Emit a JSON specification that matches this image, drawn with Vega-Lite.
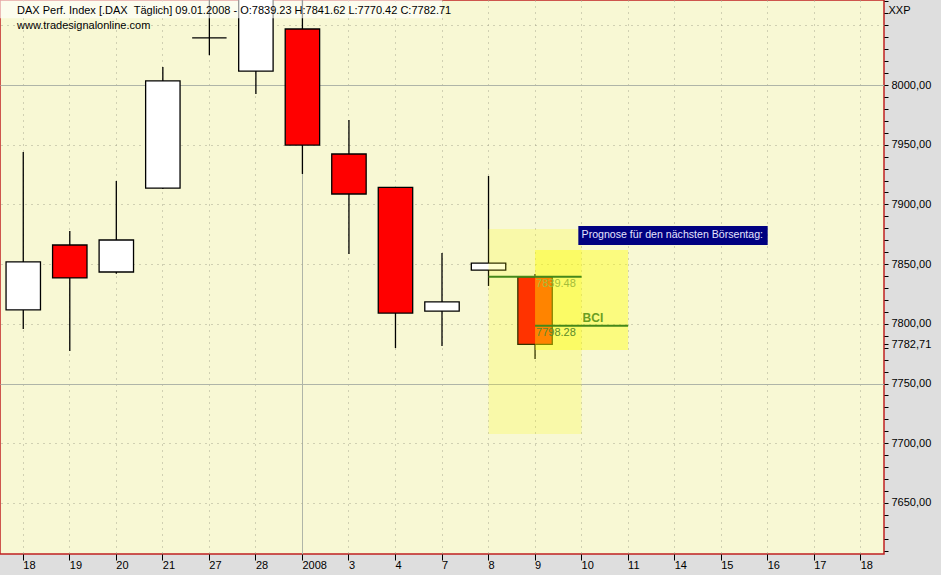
{
  "$schema": "https://vega.github.io/schema/vega-lite/v6.json",
  "width": 884,
  "height": 554,
  "autosize": {"type": "none"},
  "padding": {"left": 0, "top": 0, "right": 57, "bottom": 21},
  "background": "#DEDEDE",
  "config": {
    "view": {"fill": "#F8F8D4", "stroke": "#C02020", "strokeWidth": 1.5},
    "font": "Liberation Sans",
    "axis": {"labelFont": "Liberation Sans", "labelFontSize": 11, "labelColor": "black", "labelOverlap": false, "labelBound": false}
  },
  "title": {
    "text": "DAX Perf. Index [.DAX \u00a0Täglich] 09.01.2008 - O:7839.23 H:7841.62 L:7770.42 C:7782.71",
    "subtitle": "www.tradesignalonline.com",
    "anchor": "start",
    "frame": "group",
    "orient": "top",
    "offset": 0,
    "dx": 17,
    "dy": 36,
    "font": "Liberation Sans",
    "fontSize": 11,
    "fontWeight": "normal",
    "color": "black",
    "subtitleFont": "Liberation Sans",
    "subtitleFontSize": 11,
    "subtitleColor": "black",
    "subtitlePadding": 4
  },
  "datasets": {
    "candles": [
      {"date": "2007-12-18", "open": 7811.6, "high": 7943.9, "low": 7795.6, "close": 7851.8},
      {"date": "2007-12-19", "open": 7866.0, "high": 7877.7, "low": 7777.2, "close": 7838.4},
      {"date": "2007-12-20", "open": 7843.4, "high": 7919.6, "low": 7842.0, "close": 7870.2},
      {"date": "2007-12-21", "open": 7913.7, "high": 8015.0, "low": 7913.0, "close": 8003.4},
      {"date": "2007-12-27", "open": 8039.4, "high": 8085.0, "low": 8025.0, "close": 8039.4},
      {"date": "2007-12-28", "open": 8011.7, "high": 8095.0, "low": 7992.5, "close": 8085.0},
      {"date": "2008-01-02", "open": 8046.9, "high": 8080.0, "low": 7925.5, "close": 7949.7},
      {"date": "2008-01-03", "open": 7942.2, "high": 7970.7, "low": 7858.5, "close": 7908.7},
      {"date": "2008-01-04", "open": 7914.3, "high": 7914.6, "low": 7779.7, "close": 7809.0},
      {"date": "2008-01-07", "open": 7810.7, "high": 7859.3, "low": 7781.4, "close": 7818.3},
      {"date": "2008-01-08", "open": 7845.0, "high": 7923.8, "low": 7831.7, "close": 7850.9},
      {"date": "2008-01-09", "open": 7839.23, "high": 7841.62, "low": 7770.42, "close": 7782.71}
    ],
    "zones": [
      {"zone": "A", "x1": "2008-01-08", "x2": "2008-01-10", "lo": 7707.7, "hi": 7879.4},
      {"zone": "B", "x1": "2008-01-09", "x2": "2008-01-11", "lo": 7778.0, "hi": 7861.8}
    ],
    "levels": [
      {"name": "upper", "x1": "2008-01-08", "x2": "2008-01-10", "v": 7839.48, "labx": "2008-01-09", "label": "7839.48"},
      {"name": "BCI", "x1": "2008-01-09", "x2": "2008-01-11", "v": 7798.28, "labx": "2008-01-09", "label": "7798.28"}
    ],
    "bci": [{"x": "2008-01-10", "v": 7798.28, "label": "BCI"}],
    "note": [{"x1": "2008-01-10", "x2": "2008-01-16", "lo": 7866.0, "hi": 7882.0, "ty": 7874.0, "label": "Prognose für den nächsten Börsentag:"}],
    "header": [{"x1": "2007-12-18", "x2": "2008-01-07", "lo": 8056.0, "hi": 8071.2}]
  },
  "layer": [
    {
      "data": {"name": "candles"},
      "mark": {"type": "rule", "color": "black", "strokeWidth": 1.3, "clip": true},
      "encoding": {
        "x": {"field": "date", "type": "ordinal", "bandPosition": 0.5, "title": null,
          "scale": {"type": "band", "domain": ["2007-12-18","2007-12-19","2007-12-20","2007-12-21","2007-12-27","2007-12-28","2008-01-02","2008-01-03","2008-01-04","2008-01-07","2008-01-08","2008-01-09","2008-01-10","2008-01-11","2008-01-14","2008-01-15","2008-01-16","2008-01-17","2008-01-18"], "paddingInner": 0, "paddingOuter": 0},
          "axis": {"title": null, "domain": false, "ticks": true, "tickSize": 6, "tickColor": "black", "bandPosition": 0.5, "labelAlign": "left", "labelBaseline": "top", "labelDx": 2, "labelPadding": -1, "labelAngle": 0, "labelOverlap": false,
            "labelExpr": "datum.value === '2008-01-02' ? '2008' : '' + toNumber(slice(datum.value, 8))",
            "grid": true,
            "gridColor": {"condition": {"test": "datum.value === '2008-01-02'", "value": "#AFB5A8"}, "value": "#A8A890"},
            "gridDash": {"condition": {"test": "datum.value === '2008-01-02'", "value": []}, "value": [1, 5]}}},
        "y": {"field": "low", "type": "quantitative",
          "scale": {"domain": [7607.2, 8071.2], "nice": false, "zero": false},
          "axis": {"orient": "right", "title": "XXP", "titleAngle": 0, "titleAlign": "left", "titleBaseline": "middle", "titleX": 4, "titleY": 10, "titleFontWeight": "normal", "titleFontSize": 11, "titleFont": "Liberation Sans", "titleColor": "black",
            "domain": false, "ticks": true, "tickSize": 4, "tickColor": "black", "labelPadding": 3, "labelOverlap": false, "labelFlush": false, "labelBound": false, "labelAlign": "left", "labelBaseline": "middle",
            "tickCount": 200,
            "values": [7610,7620,7630,7640,7650,7660,7670,7680,7690,7700,7710,7720,7730,7740,7750,7760,7770,7780,7782.71,7790,7800,7810,7820,7830,7840,7850,7860,7870,7880,7890,7900,7910,7920,7930,7940,7950,7960,7970,7980,7990,8000,8010,8020,8030,8040,8050,8060,8070],
            "labelExpr": "(datum.value % 50 === 0 && datum.value <= 8000) ? replace(format(datum.value, '.2f'), '.', ',') : (abs(datum.value - 7782.71) < 0.01 ? '7782,71' : '')",
            "grid": true,
            "gridColor": {"condition": {"test": "datum.value === 8000 || datum.value === 7750", "value": "#AFB5A8"}, "value": "#A8A890"},
            "gridDash": {"condition": {"test": "datum.value === 8000 || datum.value === 7750", "value": []}, "value": [1, 5]},
            "gridOpacity": {"condition": {"test": "datum.value % 50 === 0", "value": 1}, "value": 0}}},
        "y2": {"field": "high"}
      }
    },
    {
      "data": {"name": "candles"},
      "mark": {"type": "bar", "width": {"band": 0.74}, "stroke": "black", "strokeWidth": 1.3, "clip": true},
      "encoding": {
        "x": {"field": "date", "type": "ordinal", "title": null,
          "scale": {"type": "band", "domain": ["2007-12-18","2007-12-19","2007-12-20","2007-12-21","2007-12-27","2007-12-28","2008-01-02","2008-01-03","2008-01-04","2008-01-07","2008-01-08","2008-01-09","2008-01-10","2008-01-11","2008-01-14","2008-01-15","2008-01-16","2008-01-17","2008-01-18"], "paddingInner": 0, "paddingOuter": 0}},
        "y": {"field": "open", "type": "quantitative", "scale": {"domain": [7607.2, 8071.2], "nice": false, "zero": false}},
        "y2": {"field": "close"},
        "fill": {"condition": {"test": "datum.close >= datum.open", "value": "white"}, "value": "#FF0000"}
      }
    },
    {
      "data": {"name": "zones"},
      "mark": {"type": "rect", "color": "#FFFF00", "clip": true},
      "encoding": {
        "x": {"field": "x1", "type": "ordinal", "bandPosition": 0.5, "title": null,
          "scale": {"type": "band", "domain": ["2007-12-18","2007-12-19","2007-12-20","2007-12-21","2007-12-27","2007-12-28","2008-01-02","2008-01-03","2008-01-04","2008-01-07","2008-01-08","2008-01-09","2008-01-10","2008-01-11","2008-01-14","2008-01-15","2008-01-16","2008-01-17","2008-01-18"], "paddingInner": 0, "paddingOuter": 0}},
        "x2": {"field": "x2", "bandPosition": 0.5},
        "y": {"field": "lo", "type": "quantitative", "scale": {"domain": [7607.2, 8071.2], "nice": false, "zero": false}},
        "y2": {"field": "hi"},
        "opacity": {"condition": {"test": "datum.zone === 'A'", "value": 0.2}, "value": 0.4}
      }
    },
    {
      "data": {"name": "levels"},
      "mark": {"type": "rule", "color": "#44881A", "strokeWidth": 2},
      "encoding": {
        "x": {"field": "x1", "type": "ordinal", "bandPosition": 0.5, "title": null,
          "scale": {"type": "band", "domain": ["2007-12-18","2007-12-19","2007-12-20","2007-12-21","2007-12-27","2007-12-28","2008-01-02","2008-01-03","2008-01-04","2008-01-07","2008-01-08","2008-01-09","2008-01-10","2008-01-11","2008-01-14","2008-01-15","2008-01-16","2008-01-17","2008-01-18"], "paddingInner": 0, "paddingOuter": 0}},
        "x2": {"field": "x2", "bandPosition": 0.5},
        "y": {"field": "v", "type": "quantitative", "scale": {"domain": [7607.2, 8071.2], "nice": false, "zero": false}}
      }
    },
    {
      "data": {"name": "levels"},
      "mark": {"type": "text", "align": "left", "baseline": "middle", "dx": 1, "dy": 7, "fontSize": 11, "font": "Liberation Sans"},
      "encoding": {
        "x": {"field": "labx", "type": "ordinal", "bandPosition": 0.5, "title": null,
          "scale": {"type": "band", "domain": ["2007-12-18","2007-12-19","2007-12-20","2007-12-21","2007-12-27","2007-12-28","2008-01-02","2008-01-03","2008-01-04","2008-01-07","2008-01-08","2008-01-09","2008-01-10","2008-01-11","2008-01-14","2008-01-15","2008-01-16","2008-01-17","2008-01-18"], "paddingInner": 0, "paddingOuter": 0}},
        "y": {"field": "v", "type": "quantitative", "scale": {"domain": [7607.2, 8071.2], "nice": false, "zero": false}},
        "text": {"field": "label"},
        "color": {"condition": {"test": "datum.name === 'upper'", "value": "#A3BC3A"}, "value": "#5A8A2A"}
      }
    },
    {
      "data": {"name": "bci"},
      "mark": {"type": "text", "align": "left", "baseline": "middle", "dx": 1, "dy": -8, "fontSize": 12, "fontWeight": "bold", "font": "Liberation Sans", "color": "#6A9E22"},
      "encoding": {
        "x": {"field": "x", "type": "ordinal", "bandPosition": 0.5, "title": null,
          "scale": {"type": "band", "domain": ["2007-12-18","2007-12-19","2007-12-20","2007-12-21","2007-12-27","2007-12-28","2008-01-02","2008-01-03","2008-01-04","2008-01-07","2008-01-08","2008-01-09","2008-01-10","2008-01-11","2008-01-14","2008-01-15","2008-01-16","2008-01-17","2008-01-18"], "paddingInner": 0, "paddingOuter": 0}},
        "y": {"field": "v", "type": "quantitative", "scale": {"domain": [7607.2, 8071.2], "nice": false, "zero": false}},
        "text": {"field": "label"}
      }
    },
    {
      "data": {"name": "note"},
      "mark": {"type": "rect", "color": "#000080"},
      "encoding": {
        "x": {"field": "x1", "type": "ordinal", "bandPosition": 0.43, "title": null,
          "scale": {"type": "band", "domain": ["2007-12-18","2007-12-19","2007-12-20","2007-12-21","2007-12-27","2007-12-28","2008-01-02","2008-01-03","2008-01-04","2008-01-07","2008-01-08","2008-01-09","2008-01-10","2008-01-11","2008-01-14","2008-01-15","2008-01-16","2008-01-17","2008-01-18"], "paddingInner": 0, "paddingOuter": 0}},
        "x2": {"field": "x2", "bandPosition": 0.5},
        "y": {"field": "lo", "type": "quantitative", "scale": {"domain": [7607.2, 8071.2], "nice": false, "zero": false}},
        "y2": {"field": "hi"}
      }
    },
    {
      "data": {"name": "note"},
      "mark": {"type": "text", "align": "left", "baseline": "middle", "dx": 0, "fontSize": 10.6, "font": "Liberation Sans", "color": "#E4E4FF"},
      "encoding": {
        "x": {"field": "x1", "type": "ordinal", "bandPosition": 0.5, "title": null,
          "scale": {"type": "band", "domain": ["2007-12-18","2007-12-19","2007-12-20","2007-12-21","2007-12-27","2007-12-28","2008-01-02","2008-01-03","2008-01-04","2008-01-07","2008-01-08","2008-01-09","2008-01-10","2008-01-11","2008-01-14","2008-01-15","2008-01-16","2008-01-17","2008-01-18"], "paddingInner": 0, "paddingOuter": 0}},
        "y": {"field": "ty", "type": "quantitative", "scale": {"domain": [7607.2, 8071.2], "nice": false, "zero": false}},
        "text": {"field": "label"}
      }
    },
    {
      "data": {"name": "header"},
      "mark": {"type": "rect", "color": "white", "opacity": 0.6, "clip": true},
      "encoding": {
        "x": {"field": "x1", "type": "ordinal", "bandPosition": 0, "title": null,
          "scale": {"type": "band", "domain": ["2007-12-18","2007-12-19","2007-12-20","2007-12-21","2007-12-27","2007-12-28","2008-01-02","2008-01-03","2008-01-04","2008-01-07","2008-01-08","2008-01-09","2008-01-10","2008-01-11","2008-01-14","2008-01-15","2008-01-16","2008-01-17","2008-01-18"], "paddingInner": 0, "paddingOuter": 0}},
        "x2": {"field": "x2", "bandPosition": 0.5},
        "y": {"field": "lo", "type": "quantitative", "scale": {"domain": [7607.2, 8071.2], "nice": false, "zero": false}},
        "y2": {"field": "hi"}
      }
    }
  ]
}
